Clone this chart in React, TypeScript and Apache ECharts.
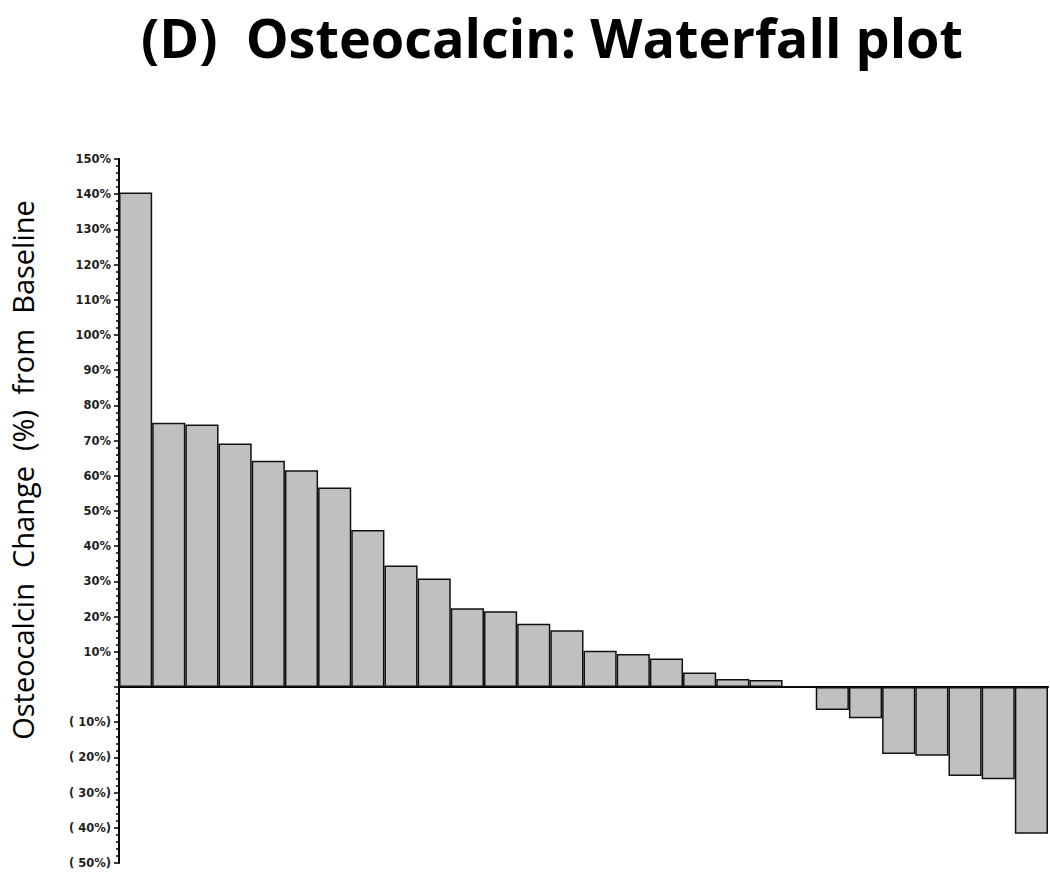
import React, { useEffect, useRef } from "react";
import * as echarts from "echarts";

const patients: string[] = Array.from({ length: 28 }, (_, i) => `P${i + 1}`);
const changePct: number[] = [
  140.5, 75.1, 74.6, 69.2, 64.3, 61.6, 56.7, 44.6, 34.5, 30.8, 22.4, 21.5, 18.0, 16.1,
  10.3, 9.4, 8.1, 4.1, 2.3, 2.0, 0, -6.5, -8.9, -19.0, -19.5, -25.3, -26.2, -41.7,
];
const yMin = -50;
const yMax = 150;
const yStep = 10;
const titleText = "(D)  Osteocalcin: Waterfall plot";
const yTitle = "Osteocalcin  Change  (%)  from  Baseline";

function fmtTick(v: number): string {
  if (v === 0) return "";
  if (v > 0) return `${v}%`;
  return `( ${-v}%)`;
}

export default function App() {
  const ref = useRef<HTMLDivElement>(null);
  useEffect(() => {
    if (!ref.current) return;
    const chart = echarts.init(ref.current, null, { renderer: "svg" });
    chart.setOption({
      animation: false,
      backgroundColor: "#ffffff",
      graphic: [
        {
          type: "text",
          x: 552,
          y: 37,
          style: {
            text: titleText,
            fontFamily: "Open Sans",
            fontWeight: "bold",
            fontSize: 54,
            fill: "#000",
            align: "center",
            verticalAlign: "middle",
          },
        },
        {
          type: "text",
          x: 22,
          y: 470,
          rotation: Math.PI / 2,
          style: {
            text: yTitle,
            fontFamily: "Open Sans",
            fontSize: 29,
            fill: "#000",
            align: "center",
            verticalAlign: "middle",
          },
        },
      ],
      grid: { left: 119, right: 2, top: 159, bottom: 11, containLabel: false },
      xAxis: {
        type: "category",
        data: patients,
        axisLine: { onZero: true, lineStyle: { color: "#000", width: 2 } },
        axisTick: { show: false },
        axisLabel: { show: false },
      },
      yAxis: {
        type: "value",
        min: yMin,
        max: yMax,
        interval: yStep,
        axisLine: { show: true, lineStyle: { color: "#000", width: 2 } },
        axisTick: { show: true, length: 5, lineStyle: { color: "#000", width: 1.5 } },
        minorTick: { show: true, splitNumber: 5, length: 3, lineStyle: { color: "#000", width: 1.5 } },
        splitLine: { show: false },
        axisLabel: {
          formatter: fmtTick,
          fontFamily: "DejaVu Sans",
          fontWeight: "bold",
          fontSize: 11.5,
          color: "#222",
          margin: 8,
        },
      },
      series: [
        {
          type: "bar",
          data: changePct,
          barCategoryGap: "0%",
          itemStyle: { color: "#c0c0c0", borderColor: "#111", borderWidth: 1.5 },
        },
      ],
    });
    return () => chart.dispose();
  }, []);
  return (
    <div
      ref={ref}
      style={{ position: "absolute", left: 0, top: 0, width: 1050, height: 874 }}
    />
  );
}
